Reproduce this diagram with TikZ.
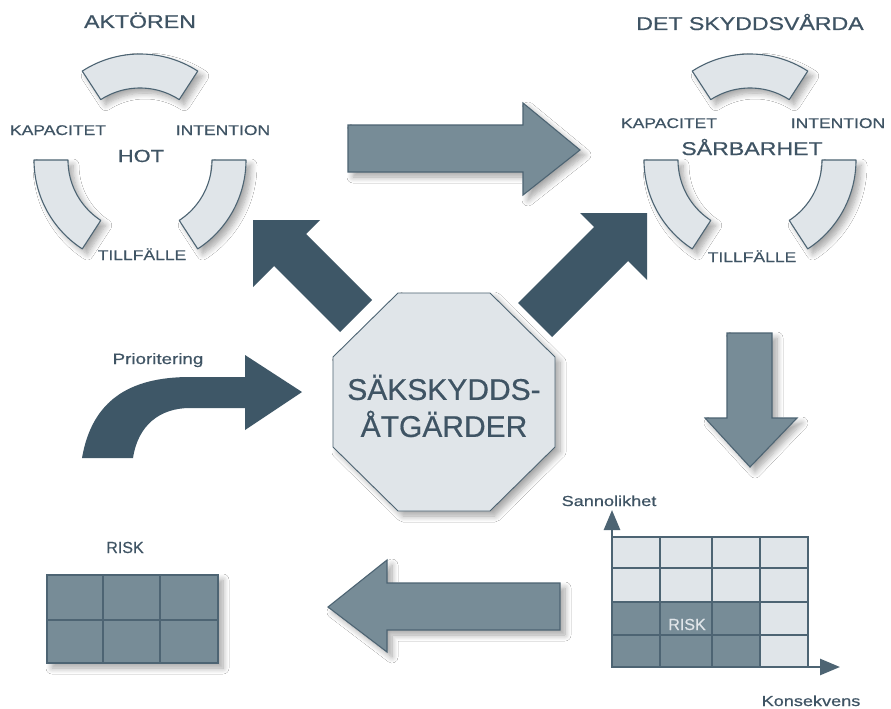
\documentclass[tikz,border=0pt]{standalone}
\usepackage{fontspec}
\setmainfont{Liberation Sans}
\newfontfamily\widefont{Liberation Sans}[FakeStretch=1.25,FakeBold=0.6]
\newfontfamily\octfont{Liberation Sans}[FakeBold=0.5]
\usetikzlibrary{shadows.blur,arrows.meta}
\definecolor{darkarrow}{HTML}{3E5767}
\definecolor{medarrow}{HTML}{778C97}
\definecolor{lightfill}{HTML}{E0E5E9}
\definecolor{edgecol}{HTML}{4D6473}
\definecolor{txtcol}{HTML}{3F5464}
\tikzset{
  shad/.style={blur shadow={shadow xshift=5pt, shadow yshift=-5pt, shadow blur radius=6pt, shadow opacity=35, shadow blur steps=8}},
  segstyle/.style={fill=lightfill, draw=edgecol, line width=1.1pt, line join=round, shad},
  medshape/.style={fill=medarrow, draw=edgecol, line width=1.1pt, line join=miter, shad},
  darkshape/.style={fill=darkarrow, draw=none},
  lbl/.style={font=\widefont\fontsize{14}{14}\selectfont, text=txtcol, inner sep=0pt, anchor=base},
  biglbl/.style={font=\widefont\fontsize{18.5}{18.5}\selectfont, text=txtcol, inner sep=0pt, anchor=base},
  gridline/.style={draw=edgecol, line width=1.6pt},
  axis/.style={draw=edgecol, line width=2.6pt, -{Triangle[width=16pt,length=20pt]}}
}
\newcommand\ringseg[4]{%
  \path[segstyle] plot[domain=#3:#4,samples=30] ({#1+106*cos(\x)},{#2-106*sin(\x)})
    -- plot[domain=#4:#3,samples=30] ({#1+72*cos(\x)},{#2-72*sin(\x)}) -- cycle;}
\begin{document}
\begin{tikzpicture}[x=1pt,y=-1pt]
\useasboundingbox (0,0) rectangle (891,709);
\fill[white] (0,0) rectangle (891,709);

% ---- left cluster (HOT)
\ringseg{140}{160}{57}{123}
\ringseg{140}{160}{180}{237}
\ringseg{140}{160}{303}{360}
\node[biglbl] (aktoren) at (140,28) {AKTÖREN};
\node[lbl] (kapL) at (58,135) {KAPACITET};
\node[lbl] (intL) at (223,135) {INTENTION};
\node[lbl, font=\widefont\fontsize{17.5}{17.5}\selectfont] (hot) at (141,162) {HOT};
\node[lbl] (tillL) at (142,260) {TILLFÄLLE};

% ---- right cluster (SARBARHET)
\ringseg{750}{160}{57}{123}
\ringseg{750}{160}{180}{237}
\ringseg{750}{160}{303}{360}
\node[biglbl] (skydd) at (750,30) {DET SKYDDSVÅRDA};
\node[lbl] (kapR) at (669,128) {KAPACITET};
\node[lbl] (intR) at (838,128) {INTENTION};
\node[biglbl] (sarb) at (752,155) {SÅRBARHET};
\node[lbl] (tillR) at (752,262) {TILLFÄLLE};

% ---- medium arrows
\path[medshape] (348,125) -- (523,125) -- (523,103) -- (580,150) -- (523,195) -- (523,172) -- (348,172) -- cycle;
\path[medshape] (727,333) -- (772,333) -- (772,418) -- (797,418) -- (750,467) -- (705,418) -- (727,418) -- cycle;
\path[medshape] (560,583) -- (387,583) -- (387,560) -- (328,607) -- (387,652) -- (387,630) -- (560,630) -- cycle;

% ---- dark diagonal arrows
\path[darkshape] (253,220) -- (320,220) -- (306,234) -- (372,300) -- (340,332) -- (274,266) -- (253,287) -- cycle;
\path[darkshape] (647,213) -- (580,213) -- (594,227) -- (518,303) -- (552,337) -- (628,261) -- (647,280) -- cycle;

% ---- curved arrow
\path[darkshape] (82,458) .. controls (92,400) and (130,377) .. (190,377) -- (245,377) -- (245,355) -- (302,392) -- (245,430) -- (245,408) -- (190,408) .. controls (160,408) and (138,425) .. (133,458) -- cycle;
\node[lbl, font=\widefont\fontsize{15}{15}\selectfont] (prio) at (158,364) {Prioritering};

% ---- octagon
\path[fill=lightfill, draw=edgecol, line width=0.9pt, shad]
  (398,293) -- (490,293) -- (555,357) -- (555,447) -- (490,511) -- (398,511) -- (333,447) -- (333,357) -- cycle;
\node[font=\octfont\fontsize{30}{37}\selectfont, text=txtcol, align=center, inner sep=0pt] (sak) at (444,406) {SÄKSKYDDS-\\ÅTGÄRDER};

% ---- left RISK table
\path[fill=medarrow, draw=edgecol, line width=1.8pt, shad] (47,575) rectangle (218,663);
\draw[gridline, line width=2pt] (103,575) -- (103,663) (160,575) -- (160,663) (47,620) -- (218,620);
\node[lbl, font=\octfont\fontsize{16}{16}\selectfont] (riskL) at (125,553) {RISK};

% ---- risk matrix
\fill[lightfill] (612,537) rectangle (808,667);
\fill[medarrow] (612,602) rectangle (760,667);
\draw[gridline] (612,537) rectangle (808,667);
\draw[gridline] (660,537) -- (660,667) (712,537) -- (712,667) (760,537) -- (760,667);
\draw[gridline] (612,568) -- (808,568) (612,602) -- (808,602) (612,635) -- (808,635);
\coordinate (origin) at (612,667);
\coordinate (ytop) at (612,510);
\coordinate (xend) at (840,667);
\draw[axis] (origin) -- (ytop);
\draw[axis] (origin) -- (xend);
\node[lbl, font=\octfont\fontsize{16}{16}\selectfont, text=lightfill] (riskM) at (687,630) {RISK};
\node[lbl, font=\widefont\fontsize{14.5}{14.5}\selectfont] (sann) at (609,506) {Sannolikhet};
\node[lbl, font=\widefont\fontsize{14.5}{14.5}\selectfont] (kons) at (811,706) {Konsekvens};
\end{tikzpicture}
\end{document}
